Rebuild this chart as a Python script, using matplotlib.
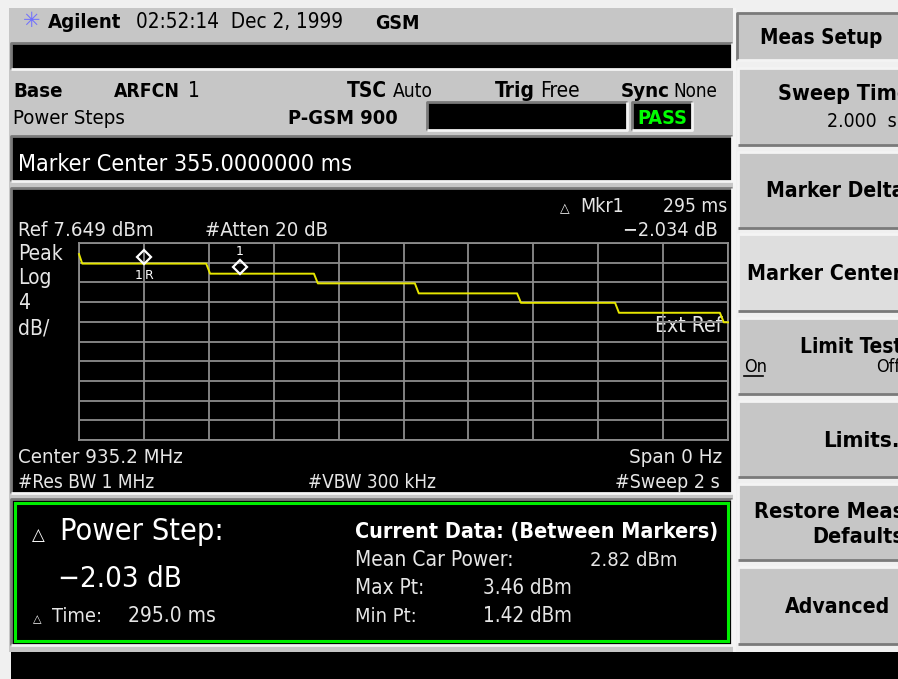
import matplotlib
matplotlib.use("Agg")
import matplotlib.pyplot as plt
from matplotlib.patches import Rectangle
from matplotlib import font_manager

W, H = 898, 679

# sweep setup: 10 divisions of time, 4 dB/div below the reference level
sweep_time = 2.0
ref_level = 7.649
db_per_div = 4

# power steps (time in s, level in dBm)
step_times = [0.0, 0.392, 0.724, 1.035, 1.350, 1.652, 1.975]
step_levels = [3.46, 1.42, -0.55, -2.58, -4.50, -6.52, -8.45]
start_level = 5.4

marker_times = [0.200, 0.495]
marker_names = ["1R", "1"]

# results panel
power_step = -2.03
delta_time_ms = 295.0
mean_power = 2.82
max_pt = 3.46
min_pt = 1.42

# pick a narrow face if one is installed, the instrument font is very condensed
FONT, STRETCH = "DejaVu Sans", "normal"
narrow = [f for f in font_manager.fontManager.ttflist
          if f.stretch in ("condensed", "semi-condensed", "extra-condensed", "ultra-condensed")]
for fam in ["Liberation Sans Narrow", "DejaVu Sans", "Noto Sans", "Roboto", "Open Sans", "Roboto Condensed"]:
    hit = [f for f in narrow if f.name == fam]
    if hit:
        FONT, STRETCH = fam, hit[0].stretch
        break

GRAY = "#c6c6c6"
LIGHT = "#f4f4f4"
DARK = "#7a7a7a"
SCREEN_TXT = "#e6e6e6"

fig = plt.figure(figsize=(W / 100, H / 100), dpi=100, facecolor="#f0f0f0")
bg = fig.add_axes([0, 0, 1, 1])
bg.set_xlim(0, W)
bg.set_ylim(H, 0)
bg.axis("off")
renderer = fig.canvas.get_renderer()


def box(x0, y0, x1, y1, face, raised=True, lw=2):
    bg.add_patch(Rectangle((x0, y0), x1 - x0, y1 - y0, facecolor=face, edgecolor="none"))
    tl, br = (LIGHT, DARK) if raised else (DARK, LIGHT)
    bg.plot([x0, x0, x1], [y1, y0, y0], color=tl, lw=lw, solid_capstyle="butt")
    bg.plot([x0, x1, x1], [y1, y1, y0], color=br, lw=lw, solid_capstyle="butt")


def txt(x, y, s, size=15, bold=False, color="black", ha="left", w=None):
    t = bg.text(x, y, s, fontsize=size, fontweight="bold" if bold else "normal",
                color=color, ha=ha, va="baseline", family=FONT, fontstretch=STRETCH)
    if w:
        bw = t.get_window_extent(renderer).width
        if bw > w:
            t.set_fontsize(size * w / bw)
    return t


def tri(x, y, size, bold=True):
    bg.text(x, y, "\u25b3", fontsize=size, color="white", ha="center", va="baseline",
            family="DejaVu Sans", fontweight="bold" if bold else "normal")


# ---- left side (display) ----
bg.add_patch(Rectangle((9, 8), 726, 644, facecolor=GRAY, edgecolor="none"))

bg.text(32, 27, "\u2733", fontsize=15, color="#6f6fff", ha="center", va="baseline", family="DejaVu Sans")
txt(48, 28, "Agilent", 15, bold=True, w=74)
txt(136, 28, "02:52:14  Dec 2, 1999", 16, w=208)
txt(375, 29, "GSM", 14, bold=True, w=46)

box(11, 43, 732, 69, "black", raised=False)

txt(13, 97, "Base", 15, bold=True, w=50)
txt(114, 97, "ARFCN", 15, bold=True, w=66)
txt(188, 97, "1", 15)
txt(347, 97, "TSC", 15, bold=True, w=42)
txt(393, 97, "Auto", 15, w=40)
txt(495, 97, "Trig", 15, bold=True, w=40)
txt(540, 97, "Free", 15, w=43)
txt(621, 97, "Sync", 15, bold=True, w=49)
txt(673, 97, "None", 15, w=44)

txt(13, 124, "Power Steps", 15, w=112)
txt(288, 124, "P-GSM 900", 15, bold=True, w=110)
box(427, 102, 627, 130, "black", raised=False)
box(632, 102, 692, 130, "black", raised=False)
txt(662, 124, "PASS", 15, bold=True, color="#00ff00", ha="center", w=50)

box(11, 136, 732, 181, "black", raised=False)
txt(18, 171, "Marker Center 355.0000000 ms", 25, color="white", w=335)

# graph screen
box(11, 188, 732, 493, "black", raised=False)
tri(565, 212, 9)
txt(580, 212, "Mkr1", 14, color=SCREEN_TXT)
txt(727, 212, "295 ms", 16, color=SCREEN_TXT, ha="right", w=64)
txt(718, 236, "\u22122.034 dB", 16, color=SCREEN_TXT, ha="right", w=95)
txt(18, 236, "Ref 7.649 dBm", 16, color=SCREEN_TXT, w=136)
txt(205, 236, "#Atten 20 dB", 16, color=SCREEN_TXT, w=124)
txt(18, 260, "Peak", 15, color=SCREEN_TXT)
txt(18, 284, "Log", 15, color=SCREEN_TXT)
txt(18, 309, "4", 15, color=SCREEN_TXT)
txt(18, 334, "dB/", 15, color=SCREEN_TXT)
txt(18, 463, "Center 935.2 MHz", 16, color=SCREEN_TXT, w=166)
txt(722, 463, "Span 0 Hz", 16, color=SCREEN_TXT, ha="right", w=94)
txt(18, 488, "#Res BW 1 MHz", 16, color=SCREEN_TXT, w=137)
txt(308, 488, "#VBW 300 kHz", 16, color=SCREEN_TXT, w=129)
txt(720, 488, "#Sweep 2 s", 16, color=SCREEN_TXT, ha="right", w=105)
txt(722, 332, "Ext Ref", 16, color=SCREEN_TXT, ha="right", w=68)

# results box
box(11, 499, 732, 645, "black", raised=False)
bg.add_patch(Rectangle((15, 503), 713, 138, facecolor="none", edgecolor="#00ee00", lw=2.2))
tri(38, 540, 12, bold=False)
txt(60, 540, "Power Step:", 22, color="white", w=164)
txt(58, 587, f"\u2212{abs(power_step):.2f} dB", 22, color="white", w=124)
tri(37, 622, 8)
txt(52, 622, "Time:", 15, color=SCREEN_TXT, w=50)
txt(128, 622, f"{delta_time_ms:.1f} ms", 15, color=SCREEN_TXT, w=88)
txt(355, 538, "Current Data: (Between Markers)", 17, bold=True, color="white", w=362)
txt(355, 566, "Mean Car Power:", 15, color=SCREEN_TXT, w=160)
txt(590, 566, f"{mean_power:.2f} dBm", 15, color=SCREEN_TXT, w=88)
txt(355, 594, "Max Pt:", 15, color=SCREEN_TXT, w=70)
txt(483, 594, f"{max_pt:.2f} dBm", 15, color=SCREEN_TXT, w=90)
txt(355, 622, "Min Pt:", 15, color=SCREEN_TXT, w=62)
txt(483, 622, f"{min_pt:.2f} dBm", 15, color=SCREEN_TXT, w=90)

# ---- softkeys ----
bg.add_patch(Rectangle((733, 8), 3, 644, facecolor=LIGHT, edgecolor="none"))
box(737, 13, 905, 60, GRAY, raised=False)
txt(760, 44, "Meas Setup", 17, bold=True, w=122)

key_rows = [(68, 145), (152, 228), (234, 311), (318, 394), (401, 477), (484, 560), (567, 644)]
for i, (y0, y1) in enumerate(key_rows):
    box(738, y0, 905, y1, "#dedede" if i == 2 else GRAY)

txt(778, 100, "Sweep Time", 17, bold=True, w=132)
txt(827, 127, "2.000  s", 14, w=70)
txt(766, 197, "Marker Delta", 17, bold=True, w=138)
txt(747, 280, "Marker Center", 17, bold=True, w=155)
txt(800, 353, "Limit Test", 17, bold=True, w=102)
txt(744, 372, "On", 13)
bg.plot([744, 763], [376, 376], color="black", lw=1.2)
txt(876, 372, "Off", 13)
txt(823, 447, "Limits...", 16, bold=True)
txt(754, 518, "Restore Meas", 17, bold=True, w=150)
txt(812, 543, "Defaults", 17, bold=True, w=92)
txt(785, 613, "Advanced", 17, bold=True, w=105)

bg.add_patch(Rectangle((11, 652), W - 11, H - 652, facecolor="black", edgecolor="none"))

# ---- graticule and trace ----
gx0, gx1, gy0, gy1 = 79, 728, 243, 440
ax = fig.add_axes([gx0 / W, 1 - gy1 / H, (gx1 - gx0) / W, (gy1 - gy0) / H])
ax.set_facecolor("none")
ax.set_xlim(0, sweep_time)
ax.set_ylim(ref_level - 10 * db_per_div, ref_level)
ax.set_xticks([sweep_time * k / 10 for k in range(11)])
ax.set_yticks([ref_level - db_per_div * k for k in range(11)])
ax.grid(True, color="#8c8c8c", lw=1.3)
ax.tick_params(length=0, labelbottom=False, labelleft=False)
for s in ax.spines.values():
    s.set_color("#8c8c8c")
    s.set_linewidth(1.3)

t = [0.0, 0.01]
lv = [start_level, step_levels[0]]
for i in range(1, len(step_times)):
    t += [step_times[i], step_times[i] + 0.012]
    lv += [step_levels[i - 1], step_levels[i]]
t.append(sweep_time)
lv.append(step_levels[-1])
ax.plot(t, lv, color="#e6e600", lw=1.4, clip_on=False, zorder=3)


def level_at(x):
    cur = step_levels[0]
    for st, sl in zip(step_times, step_levels):
        if x >= st:
            cur = sl
    return cur


for mt, name in zip(marker_times, marker_names):
    lvl = level_at(mt)
    ax.plot([mt], [lvl + 1.3], marker="D", ms=7, mfc="none", mec="white", mew=1.6, zorder=4)
    if name == "1R":
        ax.text(mt - 0.004, lvl - 2.5, "1", color="white", fontsize=9, ha="right", va="center", family=FONT)
        ax.text(mt + 0.004, lvl - 2.5, "R", color="white", fontsize=9, ha="left", va="center", family=FONT)
    else:
        ax.text(mt, lvl + 4.5, name, color="white", fontsize=9, ha="center", va="center", family=FONT)

fig.savefig("out.png", dpi=100, facecolor=fig.get_facecolor())
